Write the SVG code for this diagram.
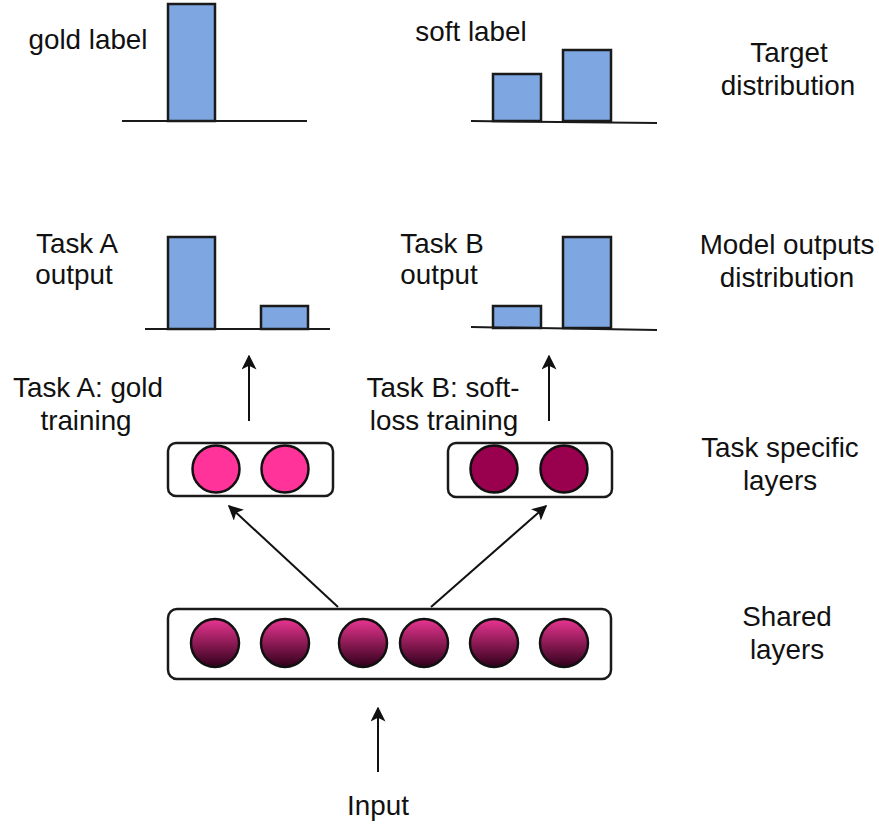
<svg xmlns="http://www.w3.org/2000/svg" width="879" height="829" viewBox="0 0 879 829">
  <style>
    .lbl { font-family: "Liberation Sans", Arial, sans-serif; font-size: 27.8px; fill: #111; text-anchor: middle; }
    .bar { fill: #7EA6E0; stroke: #1a1a1a; stroke-width: 2.5; }
    .axis { stroke: #1a1a1a; stroke-width: 2; fill: none; }
    .layer { fill: #fff; stroke: #1a1a1a; stroke-width: 2.5; }
    .na { fill: #FF3399; stroke: #111; stroke-width: 2.5; }
    .nb { fill: #99004D; stroke: #111; stroke-width: 2.5; }
    .ns { fill: url(#shared); stroke: #111; stroke-width: 2.5; }
    .edge { stroke: #111; stroke-width: 2; fill: none; marker-end: url(#arrow); }
  </style>
  <defs>
    <linearGradient id="shared" x1="0" y1="0" x2="0" y2="1">
      <stop offset="0" stop-color="#EA3591"/>
      <stop offset="1" stop-color="#30001A"/>
    </linearGradient>
    <marker id="arrow" viewBox="0 0 10 10" refX="9" refY="5" markerWidth="7.5" markerHeight="7.5" orient="auto" markerUnits="strokeWidth">
      <path d="M0,0 L10,5 L0,10 L2.5,5 Z" fill="#111"/>
    </marker>
  </defs>

  <rect width="879" height="829" fill="#fff"/>

  <!-- target distributions -->
  <g id="gold-label">
    <rect class="bar" x="168" y="4" width="47" height="117"/>
    <line class="axis" x1="122" y1="121" x2="307" y2="121"/>
    <text class="lbl" x="88" y="49">gold label</text>
  </g>
  <g id="soft-label">
    <rect class="bar" x="493" y="74" width="48" height="47"/>
    <rect class="bar" x="563" y="50" width="48" height="71"/>
    <line class="axis" x1="471" y1="121" x2="657" y2="123"/>
    <text class="lbl" x="471" y="41">soft label</text>
  </g>
  <g id="target-caption">
    <text class="lbl" x="789" y="62">Target</text>
    <text class="lbl" x="788" y="95">distribution</text>
  </g>

  <!-- model outputs -->
  <g id="task-a-output">
    <rect class="bar" x="168" y="237" width="47" height="92"/>
    <rect class="bar" x="261" y="306" width="47" height="23"/>
    <line class="axis" x1="145" y1="329" x2="330" y2="329"/>
    <text class="lbl" x="77" y="253">Task A</text>
    <text class="lbl" x="74" y="284">output</text>
  </g>
  <g id="task-b-output">
    <rect class="bar" x="493" y="306" width="48" height="22"/>
    <rect class="bar" x="563" y="237" width="48" height="91"/>
    <line class="axis" x1="471" y1="327" x2="657" y2="330"/>
    <text class="lbl" x="442" y="253">Task B</text>
    <text class="lbl" x="439" y="284">output</text>
  </g>
  <g id="model-caption">
    <text class="lbl" x="787" y="254">Model outputs</text>
    <text class="lbl" x="787" y="287">distribution</text>
  </g>

  <!-- training labels -->
  <g id="task-a-training">
    <text class="lbl" x="88" y="397">Task A: gold</text>
    <text class="lbl" x="86" y="430">training</text>
  </g>
  <g id="task-b-training">
    <text class="lbl" x="443" y="397">Task B: soft-</text>
    <text class="lbl" x="444" y="430">loss training</text>
  </g>

  <!-- task specific layers -->
  <g id="task-a-layer">
    <rect class="layer" x="168" y="443" width="165" height="53" rx="8"/>
    <circle class="na" cx="216" cy="469" r="23.5"/>
    <circle class="na" cx="285" cy="469" r="23.5"/>
  </g>
  <g id="task-b-layer">
    <rect class="layer" x="448" y="443" width="164" height="54" rx="8"/>
    <circle class="nb" cx="494" cy="469" r="23.5"/>
    <circle class="nb" cx="564" cy="469" r="23.5"/>
  </g>
  <g id="task-caption">
    <text class="lbl" x="780" y="457">Task specific</text>
    <text class="lbl" x="780" y="490">layers</text>
  </g>

  <!-- shared layers -->
  <g id="shared-layer">
    <rect class="layer" x="168" y="609" width="443" height="70" rx="9"/>
    <circle class="ns" cx="215" cy="643" r="24"/>
    <circle class="ns" cx="285" cy="643" r="24"/>
    <circle class="ns" cx="363" cy="643" r="24"/>
    <circle class="ns" cx="424" cy="643" r="24"/>
    <circle class="ns" cx="494" cy="643" r="24"/>
    <circle class="ns" cx="564" cy="643" r="24"/>
  </g>
  <g id="shared-caption">
    <text class="lbl" x="787" y="626">Shared</text>
    <text class="lbl" x="787" y="659">layers</text>
  </g>

  <g id="input">
    <text class="lbl" x="378" y="815">Input</text>
  </g>

  <!-- connectors -->
  <g id="connectors">
    <line class="edge" x1="378" y1="772" x2="378" y2="708"/>
    <line class="edge" x1="338" y1="607" x2="229" y2="506"/>
    <line class="edge" x1="431" y1="607" x2="546" y2="506"/>
    <line class="edge" x1="249" y1="421" x2="249" y2="356"/>
    <line class="edge" x1="549" y1="421" x2="549" y2="356"/>
  </g>
</svg>
